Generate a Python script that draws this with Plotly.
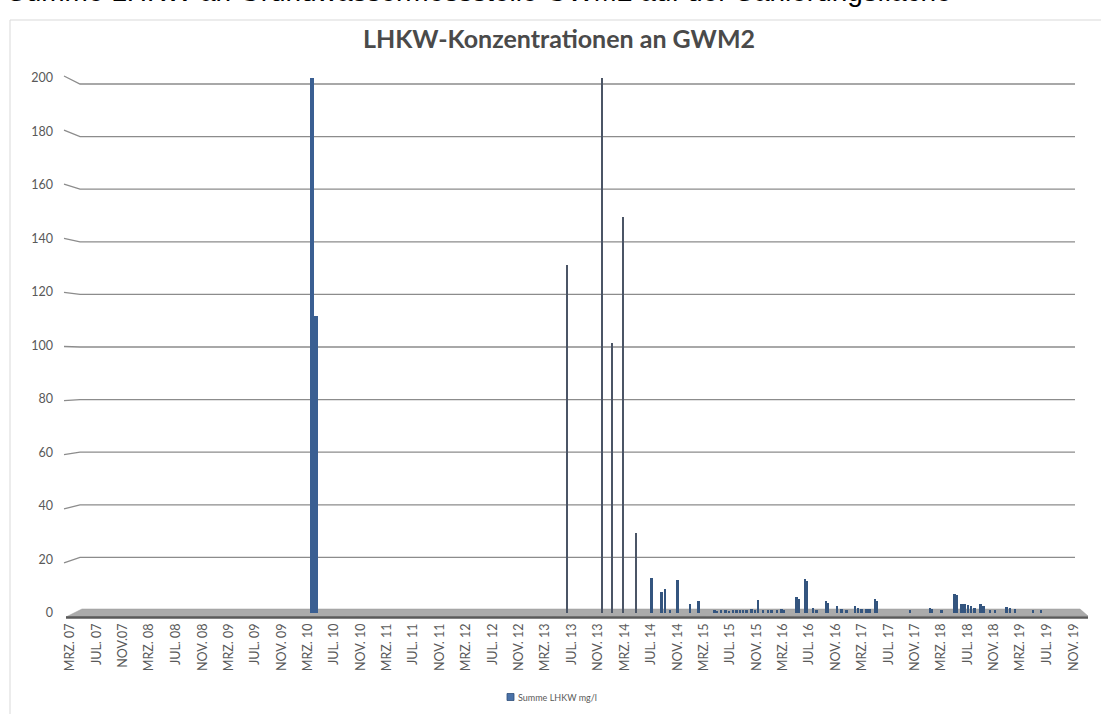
import pandas as pd
import plotly.graph_objects as go

# ---------------- data ----------------
mess_datum = [
    "2010-03-21", "2010-04-09",
    "2013-06-11", "2013-11-16", "2014-01-01", "2014-02-25", "2014-04-25",
    "2014-07-05", "2014-08-20", "2014-09-05", "2014-09-28", "2014-11-01",
    "2014-12-30", "2015-02-06", "2015-04-22", "2015-05-03", "2015-05-22",
    "2015-06-12", "2015-06-28", "2015-07-16", "2015-08-01", "2015-08-16",
    "2015-09-01", "2015-09-16", "2015-10-09", "2015-10-24", "2015-11-09",
    "2015-12-01", "2015-12-24", "2016-01-09", "2016-02-03", "2016-02-24",
    "2016-03-06", "2016-05-04", "2016-05-13", "2016-06-12", "2016-06-21",
    "2016-07-19", "2016-08-04", "2016-09-16", "2016-09-27", "2016-11-06",
    "2016-11-28", "2016-12-21", "2017-01-28", "2017-02-12", "2017-02-28",
    "2017-03-22", "2017-04-06", "2017-05-01", "2017-05-10", "2017-10-09",
    "2018-01-09", "2018-01-18", "2018-03-03", "2018-05-03", "2018-05-12",
    "2018-06-03", "2018-06-18", "2018-07-03", "2018-07-18", "2018-08-03",
    "2018-08-31", "2018-09-12", "2018-10-12", "2018-11-06", "2018-12-28",
    "2019-01-12", "2019-02-06", "2019-04-29", "2019-06-06",
]
summe_lhkw = [
    200, 111,
    130, 200, 101, 148, 30,
    13, 8, 9, 1, 12.5,
    3.5, 4.5, 1, 0.8, 1,
    1, 0.8, 1, 1, 1,
    1.2, 1, 1.5, 1.2, 5,
    1.2, 1, 1, 1.2, 1.5,
    1.2, 6, 5.2, 12.8, 12,
    2, 1.2, 4.5, 3.8, 2.5,
    1.5, 1, 2.5, 2, 1.5,
    1.5, 1.5, 5.2, 4.6, 1,
    2, 1.5, 1, 7.2, 6.8,
    3.5, 3.2, 3, 2.5, 2,
    3.2, 2.5, 1, 1.2, 2.3,
    2, 1.5, 1, 1,
]

tick_datum = [
    "2007-03-01", "2007-07-01", "2007-11-01", "2008-03-01", "2008-07-01", "2008-11-01",
    "2009-03-01", "2009-07-01", "2009-11-01", "2010-03-01", "2010-07-01", "2010-11-01",
    "2011-03-01", "2011-07-01", "2011-11-01", "2012-03-01", "2012-07-01", "2012-11-01",
    "2013-03-01", "2013-07-01", "2013-11-01", "2014-03-01", "2014-07-01", "2014-11-01",
    "2015-03-01", "2015-07-01", "2015-11-01", "2016-03-01", "2016-07-01", "2016-11-01",
    "2017-03-01", "2017-07-01", "2017-11-01", "2018-03-01", "2018-07-01", "2018-11-01",
    "2019-03-01", "2019-07-01", "2019-11-01",
]
tick_text = [
    "MRZ. 07", "JUL. 07", "NOV.07", "MRZ. 08", "JUL. 08", "NOV. 08",
    "MRZ. 09", "JUL. 09", "NOV. 09", "MRZ. 10", "JUL. 10", "NOV. 10",
    "MRZ. 11", "JUL. 11", "NOV. 11", "MRZ. 12", "JUL. 12", "NOV. 12",
    "MRZ. 13", "JUL. 13", "NOV. 13", "MRZ. 14", "JUL. 14", "NOV. 14",
    "MRZ. 15", "JUL. 15", "NOV. 15", "MRZ. 16", "JUL. 16", "NOV. 16",
    "MRZ. 17", "JUL. 17", "NOV. 17", "MRZ. 18", "JUL. 18", "NOV. 18",
    "MRZ. 19", "JUL. 19", "NOV. 19",
]
y_ticks = [0, 20, 40, 60, 80, 100, 120, 140, 160, 180, 200]
series_name = "Summe LHKW mg/l"

# ---------------- layout geometry (pixels) ----------------
W, H = 1101, 714
L, R, T, B = 64, 1088, 70, 620          # plot area
PX_PER_DAY = 6.6 / 30.4375
first_tick = pd.Timestamp(tick_datum[0])
x_start = first_tick - pd.Timedelta(days=(70 - L) / PX_PER_DAY)
x_end = x_start + pd.Timedelta(days=(R - L) / PX_PER_DAY)
Y_ZERO_PX, Y_200_PX = 613.0, 78.0
scale = (Y_ZERO_PX - Y_200_PX) / 200.0
y_top = (Y_ZERO_PX - T) / scale
y_bot = -(B - Y_ZERO_PX) / scale
BAR_BLUE = "#34557f"


def pxx(x):
    return (x - L) / (R - L)


def pxy(y):
    return (B - y) / (B - T)


dates = pd.to_datetime(mess_datum)
DAY_MS = 86400000.0
widths, colors = [], []
for d in dates:
    if d.year == 2010:
        widths.append(17 * DAY_MS)
        colors.append("#3a5f92")
    elif pd.Timestamp("2013-01-01") <= d < pd.Timestamp("2014-06-01"):
        widths.append(6 * DAY_MS)
        colors.append("#4b5566")
    else:
        widths.append(9 * DAY_MS)
        colors.append(BAR_BLUE)

fig = go.Figure()
fig.add_trace(go.Bar(
    x=dates, y=summe_lhkw, width=widths,
    marker=dict(color=colors, line=dict(width=0)),
    name=series_name, showlegend=False,
))

shapes = []
# chart border
shapes.append(dict(type="rect", xref="paper", yref="paper",
                   x0=pxx(10), y0=pxy(20), x1=pxx(1120), y1=pxy(730),
                   line=dict(color="#d9d9d9", width=1), fillcolor="rgba(0,0,0,0)",
                   layer="below"))
# gridlines with slanted side-wall segment
for v in y_ticks[1:]:
    ys = 617 - 2.705 * v
    yb = 610 - 2.63 * v
    path = "M %f,%f L %f,%f L %f,%f" % (pxx(64), pxy(ys), pxx(80), pxy(yb), pxx(1075), pxy(yb))
    shapes.append(dict(type="path", xref="paper", yref="paper", path=path,
                       line=dict(color="#8c8c8c", width=1.3), layer="below"))
# floor
floor = "M %f,%f L %f,%f L %f,%f L %f,%f Z" % (
    pxx(66), pxy(617), pxx(82), pxy(609), pxx(1080), pxy(609), pxx(1088), pxy(616))
shapes.append(dict(type="path", xref="paper", yref="paper", path=floor,
                   fillcolor="#ababab", line=dict(color="#9a9a9a", width=0.5), layer="below"))
shapes.append(dict(type="line", xref="paper", yref="paper",
                   x0=pxx(66), y0=pxy(617.5), x1=pxx(1088), y1=pxy(617.5),
                   line=dict(color="#5a5a5a", width=2.5), layer="below"))
# legend key
shapes.append(dict(type="rect", xref="paper", yref="paper",
                   x0=pxx(507), y0=pxy(700.5), x1=pxx(514), y1=pxy(693.5),
                   fillcolor="#4a72a8", line=dict(color="#2f4f7a", width=0.8)))

annotations = [
    dict(text="Summe LHKW an Grundwassermessstelle GWM2 auf der Sanierungsfläche",
         xref="paper", yref="paper", x=pxx(5), y=pxy(-8), xanchor="left", yanchor="middle",
         showarrow=False, font=dict(family="Liberation Sans", size=28, color="#000000")),
    dict(text=series_name, xref="paper", yref="paper", x=pxx(516), y=pxy(697),
         xanchor="left", yanchor="middle", showarrow=False,
         font=dict(family="Lato", size=9, color="#595959")),
]

fig.update_layout(
    width=W, height=H,
    margin=dict(l=L, r=W - R, t=T, b=H - B, autoexpand=False),
    paper_bgcolor="white", plot_bgcolor="rgba(0,0,0,0)",
    title=dict(text="<b>LHKW-Konzentrationen an GWM2</b>", x=pxx(559), xref="paper",
               xanchor="center", y=1 - 39 / H, yanchor="middle",
               font=dict(family="Lato", size=25, color="#4a4a4a")),
    shapes=shapes, annotations=annotations,
    bargap=0,
    showlegend=False,
    xaxis=dict(type="date", range=[x_start, x_end], tickmode="array",
               tickvals=pd.to_datetime(tick_datum), ticktext=tick_text,
               tickangle=-90, showgrid=False, zeroline=False, showline=False,
               ticks="", automargin=False,
               tickfont=dict(family="Lato", size=12.5, color="#595959")),
    yaxis=dict(range=[y_bot, y_top], tickmode="array", tickvals=y_ticks,
               showgrid=False, zeroline=False, showline=False, ticks="",
               ticklabelstandoff=10, automargin=False,
               tickfont=dict(family="Lato", size=12.5, color="#595959")),
)

fig.write_html("out.html", config={"displayModeBar": False},
               post_script="document.body.style.margin='0px';document.body.style.overflow='hidden';")
